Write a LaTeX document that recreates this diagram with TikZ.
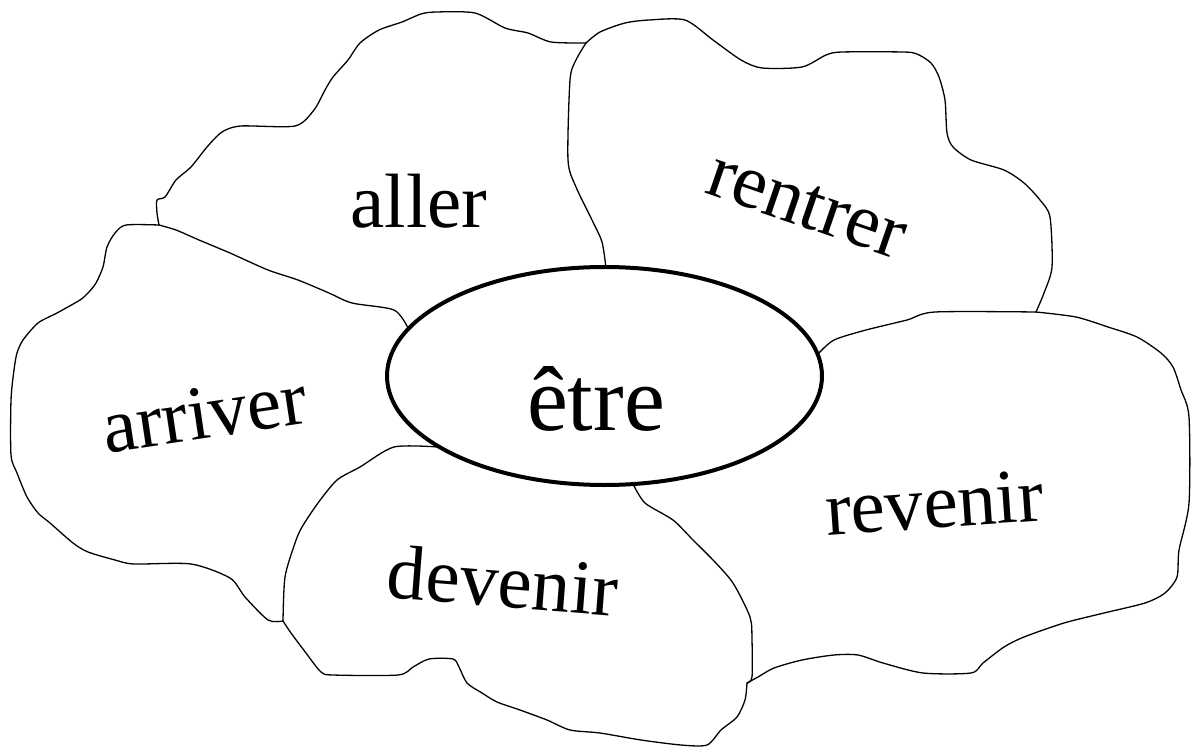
\documentclass[tikz,border=0pt]{standalone}
\usepackage{fontspec}
\setmainfont{Liberation Serif}
\usetikzlibrary{shapes.geometric}
\begin{document}
\begin{tikzpicture}[x=1pt,y=-1pt,
  petal/.style={line width=1.3pt, line join=round, line cap=round},
  lbl/.style={inner sep=0pt, anchor=base, font=\fontsize{77}{80}\selectfont},
  core/.style={draw, line width=4pt, ellipse, fill=white, minimum width=435pt, minimum height=218pt, inner sep=0pt}]
\useasboundingbox (0,0) rectangle (1192,749);
\fill[white] (0,0) rectangle (1192,749);
% junctions
\coordinate (jAR) at (586,43);
\coordinate (jRV) at (1036,312);
\coordinate (jDV) at (747,683);
\coordinate (jAD) at (283,621);
\coordinate (jAA) at (159,225);
% outer outline
\draw[petal] plot[smooth, tension=0.45] coordinates {
 (586,43) (600,32) (625,23) (649,20) (685,20) (713,40) (741,60) (762,68) (802,67) (826,55) (842,52) (903,52) (917,54) (931,63) (939,77) (945,100) (947,133) (953,147) (971,160) (1004,170) (1024,183) (1040,200) (1050,217) (1052,267) (1044,293) (1036,312)};
\draw[petal] plot[smooth, tension=0.45] coordinates {
 (1036,312) (1076,317) (1108,327) (1137,337) (1161,353) (1173,367) (1181,390) (1189,417) (1189,503) (1179,550) (1177,577) (1165,593) (1145,603) (1104,613) (1064,623) (1024,637) (1004,647) (983,663) (971,673) (923,673) (883,663) (858,655) (834,655) (802,660) (774,668) (758,677) (747,683)};
\draw[petal] plot[smooth, tension=0.45] coordinates {
 (747,683) (745,700) (737,717) (721,730) (707,745) (681,745) (641,740) (600,733) (570,730) (547,720) (520,710) (497,702) (482,693) (467,683) (459,667) (453,659) (429,659) (413,667) (398,675) (333,675) (321,672) (306,653) (291,633) (283,621)};
\draw[petal] plot[smooth, tension=0.45] coordinates {
 (283,621) (268,620) (245,597) (230,578) (191,564) (134,564) (115,560) (88,552) (73,543) (50,523) (38,513) (27,497) (17,473) (11,455) (11,400) (14,370) (17,353) (23,340) (38,323) (57,313) (80,300) (88,293) (96,283) (103,267) (107,247) (115,233) (126,225) (159,225)};
\draw[petal] plot[smooth, tension=0.45] coordinates {
 (159,225) (157,213) (157,200) (165,197) (176,180) (191,167) (207,147) (222,132) (241,126) (295,126) (314,110) (325,90) (333,77) (348,60) (360,43) (379,30) (402,22) (421,14) (436,12) (475,13) (505,28) (528,33) (551,42) (586,43)};
% dividers
\draw[petal] plot[smooth, tension=0.45] coordinates {
 (606,268) (602,242) (592,220) (576,187) (568,160) (570,80) (576,60) (586,43)};
\draw[petal] plot[smooth, tension=0.45] coordinates {
 (159,225) (176,230) (199,240) (230,253) (268,270) (298,280) (329,293) (352,303) (394,310) (408,328)};
\draw[petal] plot[smooth, tension=0.45] coordinates {
 (438,447) (394,447) (360,467) (337,480) (318,503) (302,527) (295,543) (285,577) (283,621)};
\draw[petal] plot[smooth, tension=0.45] coordinates {
 (633,484) (645,503) (673,520) (693,540) (713,560) (733,583) (750,617) (752,640) (752,677) (747,683)};
\draw[petal] plot[smooth, tension=0.45] coordinates {
 (818,354) (834,340) (866,330) (907,320) (935,312) (1036,312)};
% centre
\node[core] (etre) at (604.5,376) {};
\node[lbl, font=\fontsize{92}{96}\selectfont] (tetre) at (596,430) {être};
\node[lbl] (aller) at (419,227) {aller};
\node[lbl, rotate=-19] (rentrer) at (800,226) {rentrer};
\node[lbl, rotate=8.5] (arriver) at (208,438) {arriver};
\node[lbl, rotate=-4.5] (devenir) at (501,607) {devenir};
\node[lbl, rotate=4] (revenir) at (936,528) {revenir};
\end{tikzpicture}
\end{document}
